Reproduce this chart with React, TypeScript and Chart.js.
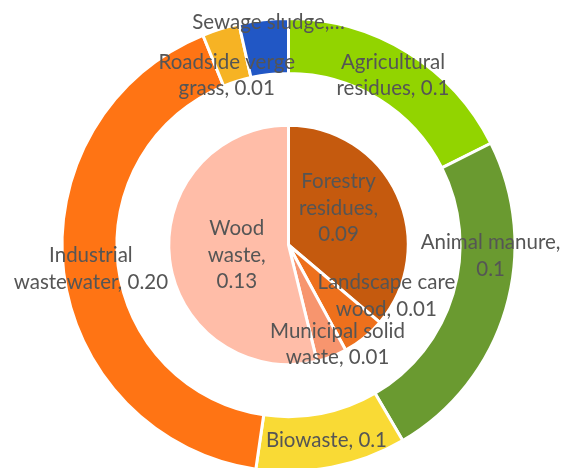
import { useEffect, useRef } from "react";
import { Chart, registerables } from "chart.js";

Chart.register(...registerables);

// ---- Data ----
const outerCategories = [
  "Agricultural residues",
  "Animal manure",
  "Biowaste",
  "Industrial wastewater",
  "Roadside verge grass",
  "Sewage sludge",
];
const outerValues = [0.0847, 0.1156, 0.0516, 0.2, 0.0128, 0.0169];
const outerColors = ["#92D400", "#6A9A30", "#F9DA35", "#FF7414", "#F6B324", "#2157C5"];
const outerLabelLines = [
  ["Agricultural", "residues, 0.1"],
  ["Animal manure,", "0.1"],
  ["Biowaste, 0.1"],
  ["Industrial", "wastewater, 0.20"],
  ["Roadside verge", "grass, 0.01"],
  ["Sewage sludge,…"],
];

const innerCategories = [
  "Forestry residues",
  "Landscape care wood",
  "Municipal solid waste",
  "Wood waste",
];
const innerValues = [0.0874, 0.0142, 0.0099, 0.13];
const innerColors = ["#C55A0E", "#EE701C", "#F7956E", "#FFBDA8"];
const innerLabelLines = [
  ["Forestry", "residues,", "0.09"],
  ["Landscape care", "wood, 0.01"],
  ["Municipal solid", "waste, 0.01"],
  ["Wood", "waste,", "0.13"],
];

// ---- Label placement (layout, not data): angular shift in degrees, radial fraction of ring ----
const outerLabelShift = [0, -13.4, 0, 0, -2.6, 1.2];
const outerLabelFrac = [0.5, 0.56, 0.5, 0.5, 0.16, 0.95];
const innerLabelShift = [-11.6, -23.5, -5.1, -4];
const innerLabelFrac = [0.52, 0.92, 0.925, 0.44];

const FONT = "20.5px Lato";
const LINE_H = 26.5;
const TEXT_COLOR = "#555555";

const labelPlugin = {
  id: "sliceLabels",
  afterDatasetsDraw(chart: any) {
    const ctx = chart.ctx as CanvasRenderingContext2D;
    const sets = [
      { index: 0, lines: outerLabelLines, shift: outerLabelShift, frac: outerLabelFrac },
      { index: 2, lines: innerLabelLines, shift: innerLabelShift, frac: innerLabelFrac },
    ];
    ctx.save();
    ctx.font = FONT;
    ctx.fillStyle = TEXT_COLOR;
    ctx.textAlign = "center";
    ctx.textBaseline = "middle";
    for (const s of sets) {
      const meta = chart.getDatasetMeta(s.index);
      meta.data.forEach((arc: any, i: number) => {
        const p = arc.getProps(
          ["x", "y", "startAngle", "endAngle", "innerRadius", "outerRadius"],
          true
        );
        const a = (p.startAngle + p.endAngle) / 2 + (s.shift[i] * Math.PI) / 180;
        const r = p.innerRadius + s.frac[i] * (p.outerRadius - p.innerRadius);
        const cx = p.x + r * Math.cos(a);
        const cy = p.y + r * Math.sin(a);
        const lines = s.lines[i];
        lines.forEach((line: string, k: number) => {
          ctx.fillText(line, cx, cy + (k - (lines.length - 1) / 2) * LINE_H);
        });
      });
    }
    ctx.restore();
  },
};

export default function App() {
  const canvasRef = useRef<HTMLCanvasElement | null>(null);

  useEffect(() => {
    if (!canvasRef.current) return;
    const chart = new Chart(canvasRef.current, {
      type: "doughnut",
      data: {
        labels: outerCategories,
        datasets: [
          {
            label: "Outer",
            data: outerValues,
            backgroundColor: outerColors,
            borderColor: "#ffffff",
            borderWidth: 3,
            weight: 55,
          } as any,
          {
            label: "Gap",
            data: [1],
            backgroundColor: "rgba(0,0,0,0)",
            borderWidth: 0,
            weight: 52,
          } as any,
          {
            label: "Inner",
            data: innerValues,
            backgroundColor: innerColors,
            borderColor: "#ffffff",
            borderWidth: 3,
            weight: 120,
          } as any,
        ],
      },
      options: {
        responsive: false,
        animation: false,
        events: [],
        cutout: 0,
        layout: { padding: { top: 17, bottom: 9, left: 60, right: 47 } },
        plugins: {
          legend: { display: false },
          tooltip: { enabled: false },
        },
      },
      plugins: [labelPlugin],
    });
    return () => chart.destroy();
  }, []);

  return (
    <div
      style={{
        position: "fixed",
        left: 0,
        top: 0,
        width: 564,
        height: 468,
        overflow: "hidden",
        background: "#ffffff",
      }}
    >
      <canvas
        ref={canvasRef}
        width={564}
        height={482}
        style={{ display: "block", width: 564, height: 482 }}
        aria-label={innerCategories.join(", ")}
      />
    </div>
  );
}
